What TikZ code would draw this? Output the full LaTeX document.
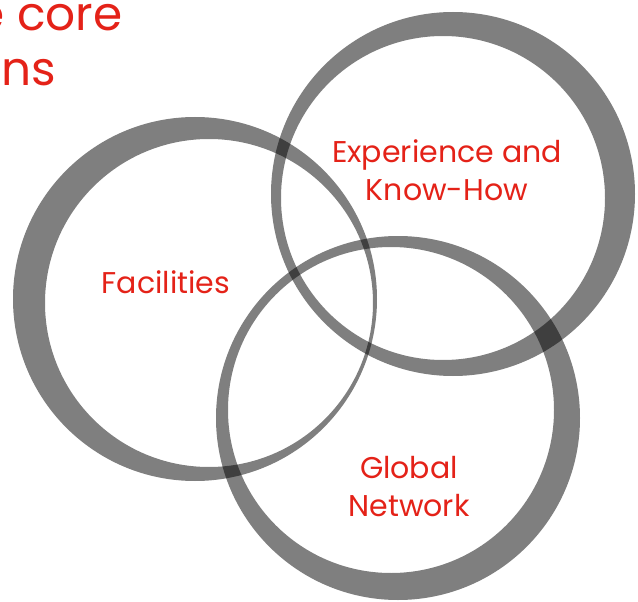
\documentclass[tikz,border=0pt]{standalone}
\usepackage{fontspec}
\setmainfont{Poppins}
\definecolor{corered}{RGB}{228,34,24}

\begin{document}
\begin{tikzpicture}[x=1pt, y=-1pt, ring/.style = {fill=black, fill opacity=0.5, even odd rule}, main/.style = {text=corered, align=center, font=\fontsize{30}{38}\selectfont}, title/.style = {text=corered, anchor=base east, font=\fontsize{47}{55}\selectfont}]
    \useasboundingbox (0,0) rectangle (638,602);
    \clip (0,0) rectangle (638,602);
    % rings
    \fill[ring] (195,299) circle (182pt) (209,303) circle (164pt);
    \fill[ring] (453,194) circle (182pt) (443,198) circle (162pt);
    \fill[ring] (398,418) circle (182pt) (391,410) circle (163pt);
    % heading, cut by the page edge
    \node[title] (1) at (126,31) {e core};
    \node[title] (2) at (60,86) {ons};
    % labels
    \node[main] (3) at (166,282) {Facilities};
    \node[main] (4) at (447,170) {Experience and\\Know-How};
    \node[main] (5) at (409,487) {Global\\Network};
\end{tikzpicture}
\end{document}
